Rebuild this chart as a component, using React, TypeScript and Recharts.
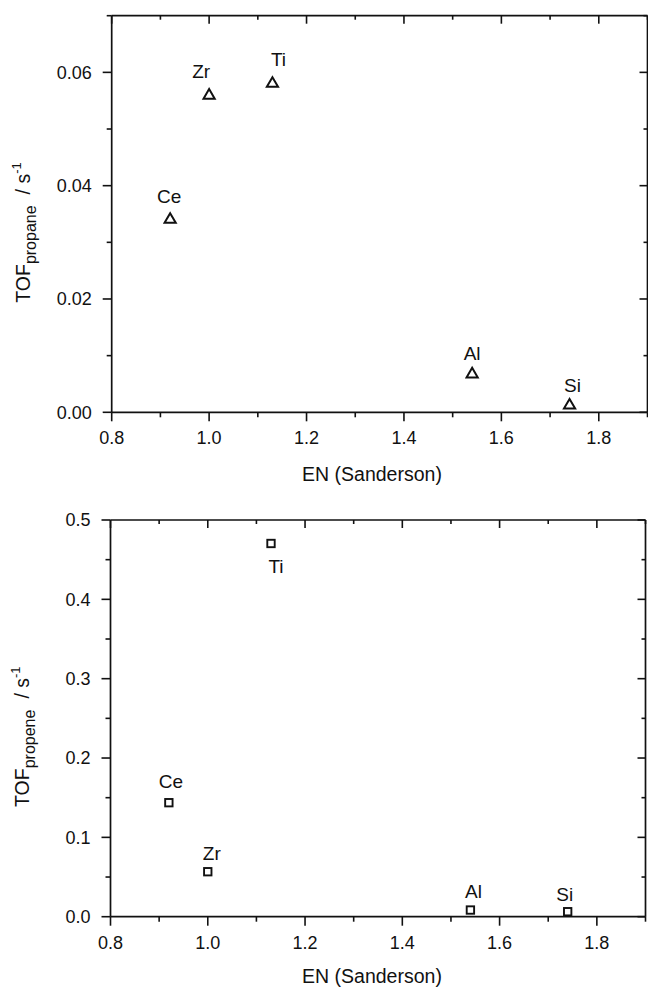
import React from "react";
import { ScatterChart, Scatter, XAxis, YAxis } from "recharts";

// Support elements and their Sanderson electronegativity
const elements = ["Ce", "Zr", "Ti", "Al", "Si"];
const enSanderson = [0.92, 1.0, 1.13, 1.54, 1.74];

// Turnover frequencies, s^-1
const tofPropane = [0.0343, 0.0562, 0.0583, 0.007, 0.0015];
const tofPropene = [0.1437, 0.0567, 0.4704, 0.0084, 0.0063];

// Tick values (majors get a label, the rest are minor)
const enTicks = [0.8, 0.9, 1.0, 1.1, 1.2, 1.3, 1.4, 1.5, 1.6, 1.7, 1.8, 1.9];
const propaneTicks = [0, 0.01, 0.02, 0.03, 0.04, 0.05, 0.06, 0.07];
const propeneTicks = [0, 0.05, 0.1, 0.15, 0.2, 0.25, 0.3, 0.35, 0.4, 0.45, 0.5];

// where each point label sits relative to its marker [dx, dy]
const propaneLabelPos: Record<string, [number, number]> = {
  Ce: [-1, -15],
  Zr: [-8, -16],
  Ti: [6, -16],
  Al: [0, -13],
  Si: [3, -12],
};
const propeneLabelPos: Record<string, [number, number]> = {
  Ce: [2, -15],
  Zr: [4, -12],
  Ti: [5, 30],
  Al: [3, -12],
  Si: [-3, -11],
};

const FONT = '"Liberation Sans", Arial, sans-serif';
const INK = "#111";
const AXIS_W = 1.7;

const propaneData = elements.map((name, i) => ({ name, x: enSanderson[i], y: tofPropane[i] }));
const propeneData = elements.map((name, i) => ({ name, x: enSanderson[i], y: tofPropene[i] }));

const isEnMajor = (v: number) => Math.round(v * 10) % 2 === 0;

const BottomTick = (props: any) => {
  const { x, y, payload } = props;
  const major = isEnMajor(payload.value);
  return (
    <g>
      <line x1={x} y1={y} x2={x} y2={y + (major ? 9 : 5)} stroke={INK} strokeWidth={1.6} />
      {major && (
        <text x={x} y={y + 32} textAnchor="middle" fontSize={18} fontFamily={FONT} fill={INK}>
          {payload.value.toFixed(1)}
        </text>
      )}
    </g>
  );
};

// top frame axis: ticks point down into the plot
const TopTick = (props: any) => {
  const { x, y, payload } = props;
  const major = isEnMajor(payload.value);
  return <line x1={x} y1={y} x2={x} y2={y + (major ? 8 : 4)} stroke={INK} strokeWidth={1.6} />;
};

const makeLeftTick = (isMajor: (v: number) => boolean, digits: number) => (props: any) => {
  const { x, y, payload } = props;
  const major = isMajor(payload.value);
  return (
    <g>
      <line x1={x - (major ? 9 : 5)} y1={y} x2={x} y2={y} stroke={INK} strokeWidth={1.6} />
      {major && (
        <text x={x - 20} y={y} dy="0.35em" textAnchor="end" fontSize={18} fontFamily={FONT} fill={INK}>
          {payload.value.toFixed(digits)}
        </text>
      )}
    </g>
  );
};

// right frame axis: ticks point left into the plot
const makeRightTick = (isMajor: (v: number) => boolean) => (props: any) => {
  const { x, y, payload } = props;
  const major = isMajor(payload.value);
  return <line x1={x - (major ? 8 : 4)} y1={y} x2={x} y2={y} stroke={INK} strokeWidth={1.6} />;
};

const propaneMajor = (v: number) => Math.round(v * 100) % 2 === 0;
const propeneMajor = (v: number) => Math.round(v * 100) % 10 === 0;

const pointLabel = (cx: number, cy: number, name: string, pos: Record<string, [number, number]>) => {
  const [dx, dy] = pos[name];
  return (
    <text x={cx + dx} y={cy + dy} textAnchor="middle" fontSize={19} fontFamily={FONT} fill={INK}>
      {name}
    </text>
  );
};

const TriangleMark = (props: any) => {
  const { cx, cy, payload } = props;
  return (
    <g>
      <polygon
        points={`${cx},${cy - 4.8} ${cx + 5.6},${cy + 4.8} ${cx - 5.6},${cy + 4.8}`}
        fill="none"
        stroke={INK}
        strokeWidth={2}
      />
      {pointLabel(cx, cy, payload.name, propaneLabelPos)}
    </g>
  );
};

const SquareMark = (props: any) => {
  const { cx, cy, payload } = props;
  return (
    <g>
      <rect x={cx - 3.7} y={cy - 3.7} width={7.4} height={7.4} fill="none" stroke={INK} strokeWidth={1.9} />
      {pointLabel(cx, cy, payload.name, propeneLabelPos)}
    </g>
  );
};

// invisible mark so the top/right frame axes get a series and draw
const NoMark = () => <g />;

const YTitle = ({ x, y, sub }: { x: number; y: number; sub: string }) => (
  <text transform={`translate(${x},${y}) rotate(-90)`} textAnchor="middle" fontSize={19.5} fontFamily={FONT} fill={INK}>
    TOF
    <tspan fontSize={16} dy={6}>
      {sub}
    </tspan>
    <tspan dy={-6} dx={11}>
      {"/ s"}
    </tspan>
    <tspan fontSize={13} dy={-9}>
      -1
    </tspan>
  </text>
);

const XTitle = ({ x, y }: { x: number; y: number }) => (
  <text x={x} y={y} textAnchor="middle" fontSize={19.5} fontFamily={FONT} fill={INK}>
    EN (Sanderson)
  </text>
);

const axisLine = { stroke: INK, strokeWidth: AXIS_W };

type PanelProps = {
  data: { name: string; x: number; y: number }[];
  width: number;
  height: number;
  top: number;
  right: number;
  yWidth: number;
  xHeight: number;
  yDomain: [number, number];
  yTicks: number[];
  yMajor: (v: number) => boolean;
  digits: number;
  mark: (p: any) => React.ReactElement;
  sub: string;
  yTitleX: number;
  yTitleY: number;
  xTitleY: number;
};

const Panel = (p: PanelProps) => (
  <ScatterChart width={p.width} height={p.height} margin={{ top: p.top, right: p.right, bottom: 0, left: 0 }}>
    <XAxis
      xAxisId="b"
      dataKey="x"
      type="number"
      domain={[0.8, 1.9]}
      ticks={enTicks}
      interval={0}
      allowDataOverflow
      height={p.xHeight}
      tickSize={0}
      tickMargin={0}
      tickLine={false}
      tick={<BottomTick />}
      axisLine={axisLine}
    />
    <XAxis
      xAxisId="t"
      dataKey="x"
      orientation="top"
      type="number"
      domain={[0.8, 1.9]}
      ticks={enTicks}
      interval={0}
      allowDataOverflow
      height={1}
      tickSize={0}
      tickMargin={0}
      tickLine={false}
      tick={<TopTick />}
      axisLine={axisLine}
    />
    <YAxis
      yAxisId="l"
      dataKey="y"
      type="number"
      domain={p.yDomain}
      ticks={p.yTicks}
      interval={0}
      allowDataOverflow
      width={p.yWidth}
      tickSize={0}
      tickMargin={0}
      tickLine={false}
      tick={makeLeftTick(p.yMajor, p.digits)}
      axisLine={axisLine}
    />
    <YAxis
      yAxisId="r"
      dataKey="y"
      orientation="right"
      type="number"
      domain={p.yDomain}
      ticks={p.yTicks}
      interval={0}
      allowDataOverflow
      width={1}
      tickSize={0}
      tickMargin={0}
      tickLine={false}
      tick={makeRightTick(p.yMajor)}
      axisLine={axisLine}
    />
    <Scatter data={p.data} xAxisId="t" yAxisId="r" shape={NoMark} isAnimationActive={false} />
    <Scatter data={p.data} xAxisId="b" yAxisId="l" shape={p.mark} isAnimationActive={false} />
    <YTitle x={p.yTitleX} y={p.yTitleY} sub={p.sub} />
    <XTitle x={364} y={p.xTitleY} />
  </ScatterChart>
);

export default function App() {
  // fixed frame so the two stacked panels never push the page into scrolling
  return (
    <div
      style={{
        position: "fixed",
        top: 0,
        left: 0,
        width: 648,
        height: 990,
        overflow: "hidden",
        padding: "8px 0 0 8px",
        boxSizing: "border-box",
        background: "#fff",
      }}
    >
      <Panel
        data={propaneData}
        width={640.5}
        height={490}
        top={6.7}
        right={0}
        yWidth={103.7}
        xHeight={85.7}
        yDomain={[0, 0.07]}
        yTicks={propaneTicks}
        yMajor={propaneMajor}
        digits={2}
        mark={TriangleMark}
        sub="propane"
        yTitleX={22}
        yTitleY={224.5}
        xTitleY={473}
      />
      <Panel
        data={propeneData}
        width={640}
        height={492}
        top={21}
        right={1.5}
        yWidth={102.5}
        xHeight={73.3}
        yDomain={[0, 0.5]}
        yTicks={propeneTicks}
        yMajor={propeneMajor}
        digits={1}
        mark={SquareMark}
        sub="propene"
        yTitleX={21}
        yTitleY={238.7}
        xTitleY={485}
      />
    </div>
  );
}
